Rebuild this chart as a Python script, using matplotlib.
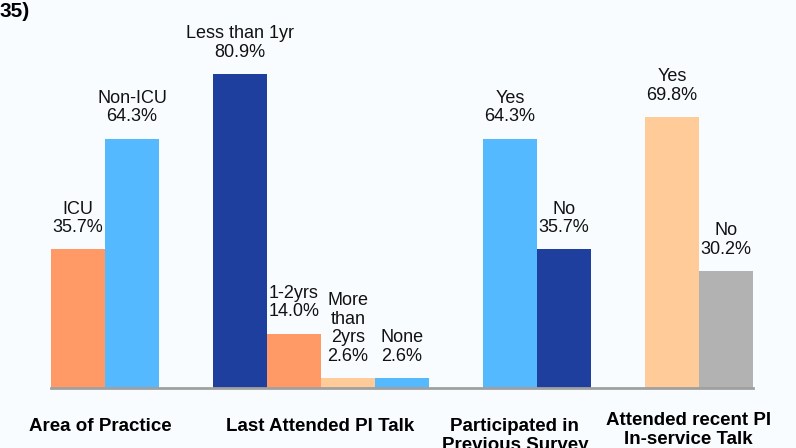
import matplotlib.pyplot as plt

plt.rcParams['font.family'] = ['Liberation Sans', 'DejaVu Sans']

# --- data ---
groups = ["Area of Practice", "Last Attended PI Talk",
          "Participated in\nPrevious Survey", "Attended recent PI\nIn-service Talk"]
bar_labels = [["ICU", "Non-ICU"],
              ["Less than 1yr", "1-2yrs", "More\nthan\n2yrs", "None"],
              ["Yes", "No"],
              ["Yes", "No"]]
values = [[35.7, 64.3],
          [80.9, 14.0, 2.6, 2.6],
          [64.3, 35.7],
          [69.8, 30.2]]

ORANGE = '#FF9966'
LIGHT_BLUE = '#55B9FF'
DARK_BLUE = '#1F3F9F'
PEACH = '#FFCC99'
GRAY = '#B2B2B2'
bar_colors = [[ORANGE, LIGHT_BLUE],
              [DARK_BLUE, ORANGE, PEACH, LIGHT_BLUE],
              [LIGHT_BLUE, DARK_BLUE],
              [PEACH, GRAY]]

BG = '#F9FCFF'

# --- layout ---
W, H = 796, 448
fig = plt.figure(figsize=(W / 100, H / 100), dpi=100, facecolor=BG)
ax = fig.add_axes([51 / W, 60 / H, 702 / W, 388 / H])
ax.patch.set_alpha(0)

pos = 0
group_centers = []
for g, (labs, vals, cols) in enumerate(zip(bar_labels, values, bar_colors)):
    xs = [pos + i for i in range(len(vals))]
    ax.bar(xs, vals, width=1.0, color=cols, linewidth=0, zorder=2)
    for x, v, lab in zip(xs, vals, labs):
        ax.annotate(f"{lab}\n{v:.1f}%", (x, v), xytext=(0, 9.5),
                    textcoords='offset points', ha='center', va='bottom',
                    fontsize=13, linespacing=1.12, color='#111111')
    group_centers.append((xs[0] + xs[-1]) / 2)
    pos += len(vals) + 1

ax.set_xlim(-0.5, pos - 1.5)
ax.set_ylim(0, 100)
for s in ['top', 'right', 'left']:
    ax.spines[s].set_visible(False)
ax.spines['bottom'].set_color('#A0A0A0')
ax.spines['bottom'].set_linewidth(2)
ax.set_xticks([])
ax.set_yticks([])

# group captions under the axis
label_shift = [-0.09, -0.02, -0.41, -0.2]
label_top_px = [418, 418, 418, 412]
trans = ax.get_xaxis_transform()
for c, sh, top, name in zip(group_centers, label_shift, label_top_px, groups):
    ax.text(c + sh, (388 - top) / 388, name, transform=trans, ha='center', va='top',
            fontsize=13.5, fontweight='bold', linespacing=1.15, clip_on=False)

fig.text(0, 1 - 2 / H, "35)", ha='left', va='top', fontsize=15, fontweight='bold')

fig.savefig('out.png', dpi=100, facecolor=BG)
